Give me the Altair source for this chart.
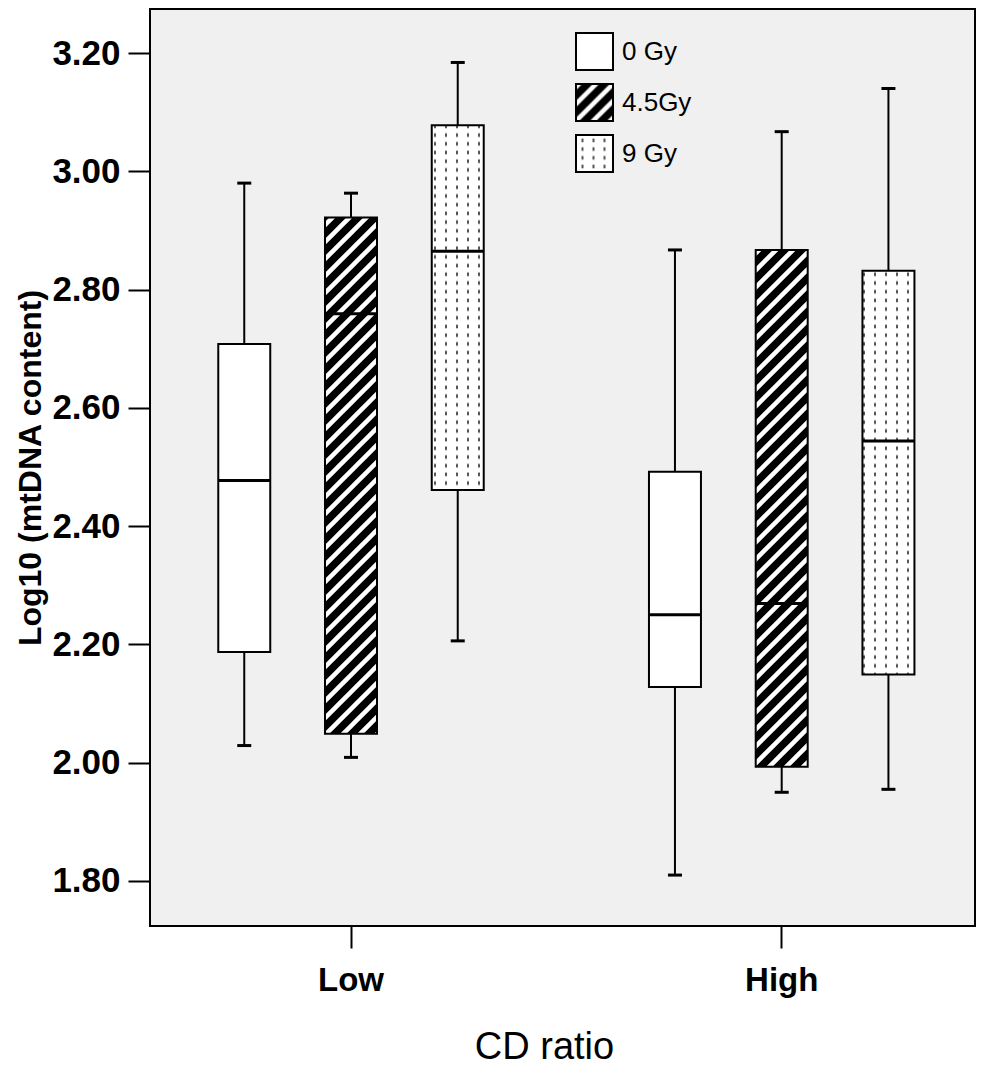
import altair as alt
import pandas as pd
from altair.utils import html as alt_html

# ---------------- data ----------------
categories = ["Low", "High"]
doses = ["0 Gy", "4.5Gy", "9 Gy"]
cd_col = ["Low", "Low", "Low", "High", "High", "High"]
dose_col = ["0 Gy", "4.5Gy", "9 Gy", "0 Gy", "4.5Gy", "9 Gy"]
whisker_low = [2.029, 2.009, 2.206, 1.810, 1.950, 1.955]
q1 = [2.187, 2.049, 2.461, 2.128, 1.993, 2.149]
median = [2.477, 2.759, 2.865, 2.250, 2.269, 2.544]
q3 = [2.708, 2.922, 3.078, 2.492, 2.867, 2.832]
whisker_high = [2.980, 2.963, 3.184, 2.867, 3.067, 3.140]
y_ticks = [1.8, 2.0, 2.2, 2.4, 2.6, 2.8, 3.0, 3.2]

FONT = "Liberation Sans"
YTITLE = "Log10 (mtDNA content)"

df = pd.DataFrame({
    "cd": cd_col, "dose": dose_col, "low": whisker_low, "q1": q1,
    "med": median, "q3": q3, "high": whisker_high,
})

fills = ["#ffffff", "url(#hatch)", "url(#dots)"]

yscale = alt.Scale(domain=[1.7239, 3.2744], nice=False, zero=False)
yaxis = alt.Axis(values=y_ticks, format=".2f", domain=False, grid=False,
                 tickSize=22, tickWidth=2, labelFontSize=35, labelFontWeight="bold",
                 labelPadding=8, titleFontSize=32, titleFontWeight="bold",
                 titlePadding=4)
xaxis = alt.Axis(title="CD ratio", labelAngle=0, domain=False, tickSize=22,
                 tickWidth=2, labelFontSize=33, labelFontWeight="bold",
                 labelPadding=16, titleFontSize=38, titleFontWeight="normal",
                 titleX=394, titleY=132, titleBaseline="alphabetic")

base = alt.Chart(df).encode(
    x=alt.X("cd:N", sort=categories, title="CD ratio",
            scale=alt.Scale(range=[-14.35, 847.05], paddingInner=0, paddingOuter=0),
            axis=xaxis),
    xOffset=alt.XOffset("dose:N", sort=doses,
                        scale=alt.Scale(paddingInner=0.513, paddingOuter=0.774)),
)

rules = base.mark_rule(color="black", strokeWidth=2).encode(
    y=alt.Y("low:Q", scale=yscale, axis=yaxis, title=YTITLE), y2="high:Q")

boxes = base.mark_bar(stroke="black", strokeWidth=2, opacity=1).encode(
    y=alt.Y("q1:Q", title=YTITLE), y2="q3:Q",
    fill=alt.Fill("dose:N", scale=alt.Scale(domain=doses, range=fills),
                  legend=alt.Legend(title=None, orient="none", legendX=425, legendY=23,
                                    symbolType="square", symbolSize=1369,
                                    symbolStrokeColor="black", symbolStrokeWidth=2,
                                    symbolOpacity=1, labelFontSize=26, labelFont=FONT,
                                    labelColor="black", rowPadding=6, labelOffset=8,
                                    padding=0)))

med = base.mark_tick(color="black", size=52, thickness=3, opacity=1).encode(
    y=alt.Y("med:Q", title=YTITLE))
cap_lo = base.mark_tick(color="black", size=14, thickness=3, opacity=1).encode(
    y=alt.Y("low:Q", title=YTITLE))
cap_hi = base.mark_tick(color="black", size=14, thickness=3, opacity=1).encode(
    y=alt.Y("high:Q", title=YTITLE))

chart = alt.layer(rules, boxes, med, cap_lo, cap_hi).properties(
    width=825, height=917,
    padding={"left": 142, "top": 1, "right": 9, "bottom": 142},
    autosize=alt.AutoSizeParams(type="none"),
).configure_view(
    fill="#f0f0f0", stroke="black", strokeWidth=2
).configure_axis(
    labelColor="black", titleColor="black", tickColor="black",
    labelFont=FONT, titleFont=FONT
)

DEFS = (
    '<svg width="0" height="0" style="position:absolute;left:0;top:0" aria-hidden="true">'
    '<defs>'
    '<pattern id="hatch" patternUnits="userSpaceOnUse" width="17" height="17">'
    '<rect width="17" height="17" fill="#000"/>'
    '<path d="M-4.25,4.25 L4.25,-4.25 M0,17 L17,0 M12.75,21.25 L21.25,12.75" '
    'stroke="#fff" stroke-width="4.5"/>'
    '</pattern>'
    '<pattern id="dots" patternUnits="userSpaceOnUse" width="11" height="8.7">'
    '<rect width="11" height="8.7" fill="#fff"/>'
    '<rect x="9" y="2.5" width="2.2" height="3.6" fill="#555"/>'
    '</pattern>'
    '</defs></svg>'
)

_std = getattr(alt_html, "TEMPLATES", {}).get("standard", None) or alt_html.HTML_TEMPLATE


class _PatternTemplate:
    def render(self, **kw):
        out = _std.render(**kw)
        if "<body>" in out:
            return out.replace("<body>", "<body>" + DEFS, 1)
        return DEFS + out


chart.save("out.html", embed_options={"renderer": "svg", "actions": False},
           template=_PatternTemplate())
